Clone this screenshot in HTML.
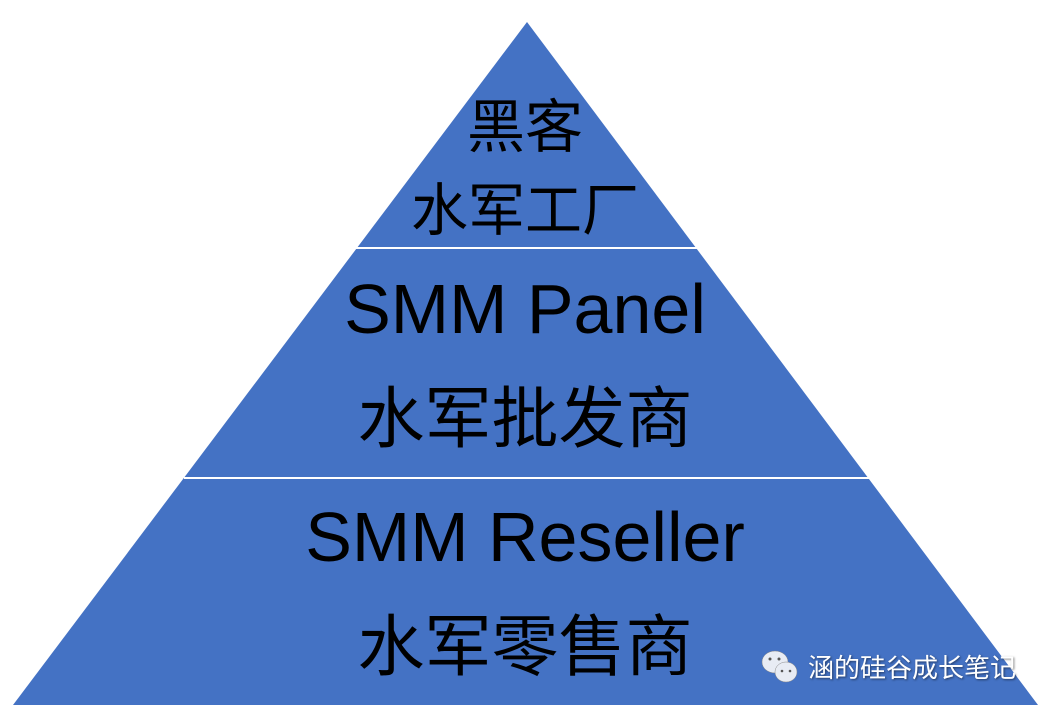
<!DOCTYPE html>
<html><head><meta charset="utf-8"><style>
html,body{margin:0;padding:0;background:#fff;}
body{width:1050px;height:716px;position:relative;overflow:hidden;font-family:"Liberation Sans","Noto Sans CJK SC",sans-serif;}
.t{position:absolute;left:0;width:1050px;text-align:center;color:#000;line-height:1;white-space:nowrap;}
.wm{position:absolute;left:808px;top:654px;font-size:26px;color:#fff;text-shadow:1px 1px 2px rgba(0,0,0,.5);font-family:"Noto Sans CJK SC",sans-serif;line-height:1;}
</style></head><body>
<svg width="1050" height="716" style="position:absolute;left:0;top:0">
<polygon points="527,22 1038,705 13,705" fill="#4472C4"/>
<line x1="356" y1="248" x2="698" y2="248" stroke="#fff" stroke-width="2"/>
<line x1="184" y1="478" x2="870" y2="478" stroke="#fff" stroke-width="2"/>
<g fill="#e8ecf4" stroke="#888" stroke-width="0.5">
<ellipse cx="775" cy="662" rx="13" ry="11"/>
<ellipse cx="786" cy="672" rx="11" ry="10"/>
</g>
<g fill="#555"><circle cx="770" cy="659" r="1.5"/><circle cx="779" cy="659" r="1.5"/><circle cx="782" cy="671" r="1.3"/><circle cx="790" cy="671" r="1.3"/></g>
</svg>
<div class="t" style="top:99px;font-size:58px;">黑客</div>
<div class="t" style="top:183px;font-size:57px;">水军工厂</div>
<div class="t" style="top:274px;font-size:70px;">SMM Panel</div>
<div class="t" style="top:386px;font-size:67px;">水军批发商</div>
<div class="t" style="top:502px;font-size:70px;">SMM Reseller</div>
<div class="t" style="top:614px;font-size:67px;">水军零售商</div>
<div class="wm">涵的硅谷成长笔记</div>
</body></html>
